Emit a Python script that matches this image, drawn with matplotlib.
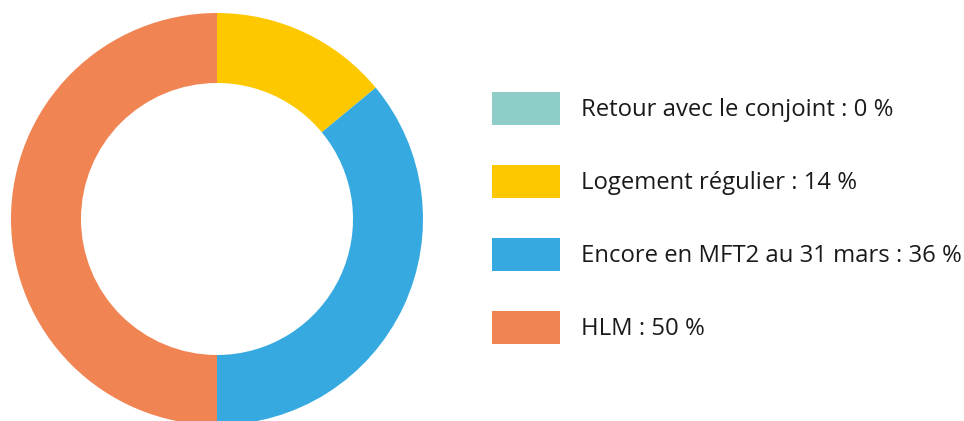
import matplotlib.pyplot as plt

labels = ["Retour avec le conjoint", "Logement régulier", "Encore en MFT2 au 31 mars", "HLM"]
values = [0, 14, 36, 50]
colors = ["#8ECDC8", "#FDC800", "#36A9E0", "#F08453"]

W, H = 964, 421
fig = plt.figure(figsize=(W / 100, H / 100), dpi=100, facecolor="white")
plt.rcParams["font.family"] = ["Open Sans", "DejaVu Sans"]

# donut: centre (217, 219) px, outer radius 206 px, inner 136 px
cx, cy, r = 217, 219, 206
ax = fig.add_axes([(cx - r) / W, (H - cy - r) / H, 2 * r / W, 2 * r / H])
wedges, _ = ax.pie(values, colors=colors, startangle=90, counterclock=False,
                   radius=1, wedgeprops=dict(width=1 - 136 / 206, linewidth=0))
ax.set_xlim(-1, 1); ax.set_ylim(-1, 1)
ax.set_aspect("equal")
ax.axis("off")

fs = 17.2
leg = fig.legend(wedges, [f"{l} : {v} %" for l, v in zip(labels, values)],
                 loc="upper left", bbox_to_anchor=(492 / W, 1 - 92 / H),
                 bbox_transform=fig.transFigure, frameon=False, fontsize=fs,
                 handlelength=2.85, handleheight=1.76, handletextpad=0.88,
                 labelspacing=1.66, borderpad=0, borderaxespad=0)
for t in leg.get_texts():
    t.set_color("#1a1a1a")

fig.savefig("out.png", dpi=100)
